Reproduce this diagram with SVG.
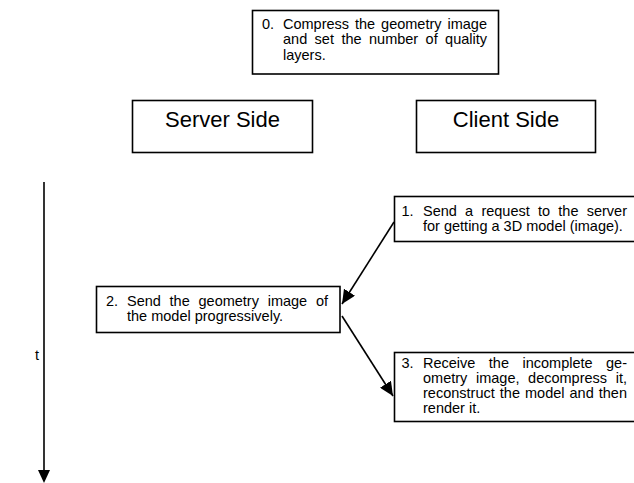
<svg xmlns="http://www.w3.org/2000/svg" width="634" height="483" viewBox="0 0 634 483">
<style>
.box{fill:#fff;stroke:#000;stroke-width:1.6}
.t{font-family:"Liberation Sans",Arial,sans-serif;font-size:14.5px;fill:#000}
.big{font-family:"Liberation Sans",Arial,sans-serif;font-size:22px;fill:#000;text-anchor:middle}
.e{text-anchor:end}
.conn{stroke:#000;stroke-width:1.6;fill:none}
</style>
<defs>
<marker id="ah" markerUnits="userSpaceOnUse" markerWidth="16" markerHeight="13" refX="14" refY="6.5" orient="auto">
<path d="M0,0 L14,6.5 L0,13 z" fill="#000"/>
</marker>
</defs>
<rect width="634" height="483" fill="#fff"/>
<g id="n0">
<rect class="box" x="252.5" y="10.5" width="246" height="63.5"/>
<text class="t" y="28.5"><tspan x="262">0.</tspan><tspan x="283">Compress</tspan><tspan x="355">the</tspan><tspan x="381.1">geometry</tspan><tspan x="487" class="e">image</tspan></text>
<text class="t" y="44"><tspan x="283">and</tspan><tspan x="314.6">set</tspan><tspan x="341.4">the</tspan><tspan x="369">number</tspan><tspan x="425.6">of</tspan><tspan x="487" class="e">quality</tspan></text>
<text class="t" x="283" y="59.5">layers.</text>
</g>
<g id="server">
<rect class="box" x="132.5" y="100.5" width="180" height="52"/>
<text class="big" x="222.5" y="126.5">Server Side</text>
</g>
<g id="client">
<rect class="box" x="416.5" y="100.5" width="179" height="52"/>
<text class="big" x="506" y="126.5">Client Side</text>
</g>
<g id="n1">
<rect class="box" x="394.5" y="196.5" width="250" height="45"/>
<text class="t" y="216"><tspan x="401.5">1.</tspan><tspan x="423">Send</tspan><tspan x="465.1">a</tspan><tspan x="481.4">request</tspan><tspan x="538">to</tspan><tspan x="558.3">the</tspan><tspan x="627" class="e">server</tspan></text>
<text class="t" x="423" y="231">for getting a 3D model (image).</text>
</g>
<g id="n2">
<rect class="box" x="96.5" y="286.5" width="243.5" height="46"/>
<text class="t" y="306"><tspan x="106">2.</tspan><tspan x="127">Send</tspan><tspan x="169.6">the</tspan><tspan x="198.5">geometry</tspan><tspan x="267.7">image</tspan><tspan x="328" class="e">of</tspan></text>
<text class="t" x="127" y="321">the model progressively.</text>
</g>
<g id="n3">
<rect class="box" x="394.5" y="352.5" width="250" height="69"/>
<text class="t" y="368"><tspan x="401.5">3.</tspan><tspan x="423">Receive</tspan><tspan x="488.8">the</tspan><tspan x="522.5">incomplete</tspan><tspan x="627" class="e">ge-</tspan></text>
<text class="t" y="383"><tspan x="423">ometry</tspan><tspan x="476">image,</tspan><tspan x="528.1">decompress</tspan><tspan x="627" class="e">it,</tspan></text>
<text class="t" y="398"><tspan x="423">reconstruct</tspan><tspan x="499.8">the</tspan><tspan x="525">model</tspan><tspan x="569.5">and</tspan><tspan x="627" class="e">then</tspan></text>
<text class="t" x="423" y="413">render it.</text>
</g>
<g id="time">
<line class="conn" x1="44" y1="182" x2="44" y2="471"/>
<polygon points="38,470 50,470 44,483" fill="#000"/>
<text class="t" x="35" y="360">t</text>
</g>
<g id="connectors">
<line class="conn" x1="394" y1="222" x2="342" y2="304" marker-end="url(#ah)"/>
<line class="conn" x1="342" y1="316" x2="393" y2="396" marker-end="url(#ah)"/>
</g>
</svg>
